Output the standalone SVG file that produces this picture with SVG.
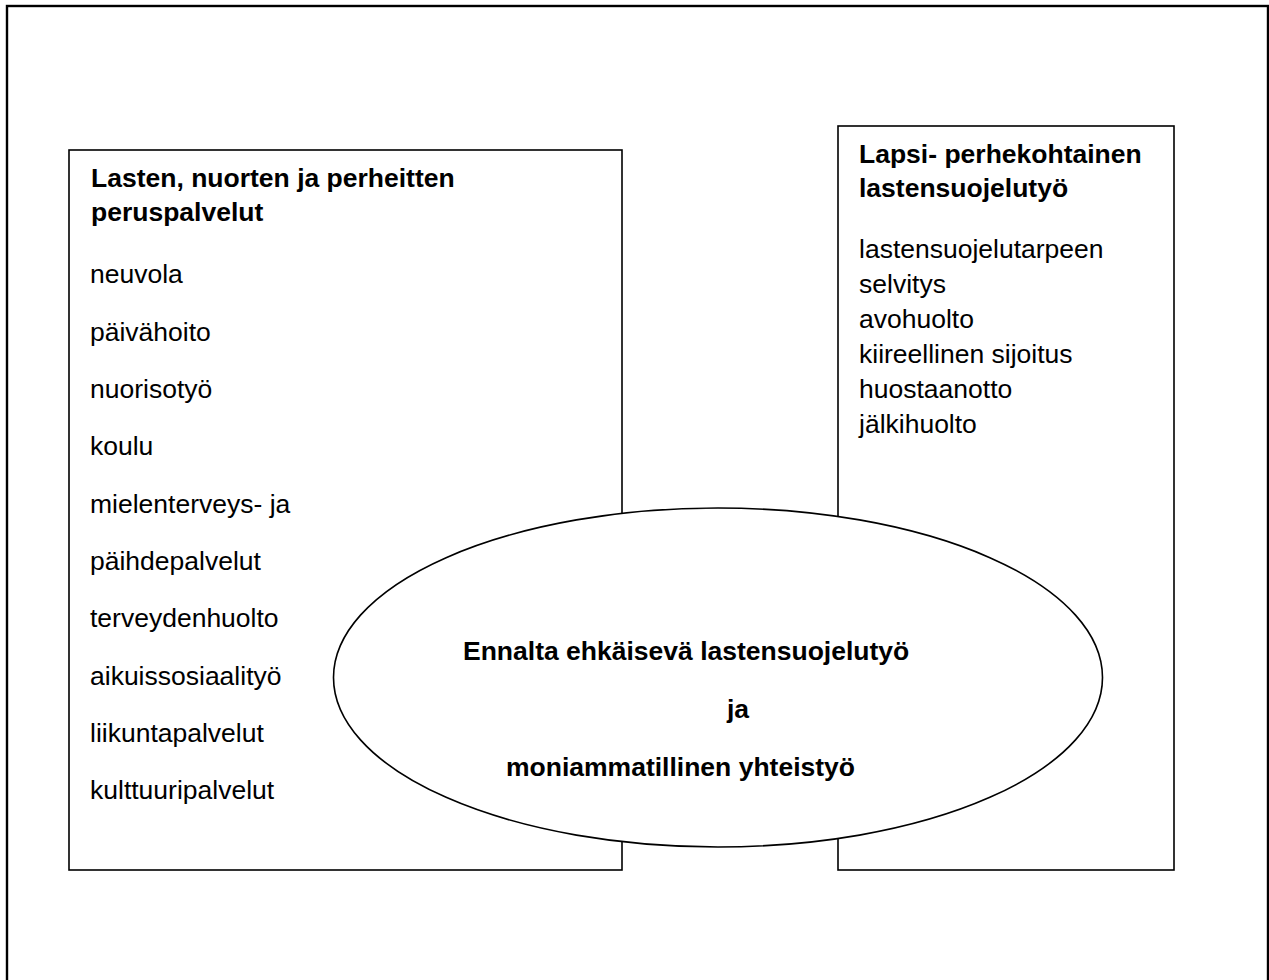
<svg xmlns="http://www.w3.org/2000/svg" width="1269" height="980" viewBox="0 0 1269 980">
<style>
.box{fill:#fff;stroke:#000;stroke-width:1.6}
.t{font-family:"Liberation Sans",Arial,sans-serif;font-size:26.5px;fill:#000}
.b{font-weight:bold}
</style>
<rect x="0" y="0" width="1269" height="980" fill="#fff"/>
<rect id="frame" x="7" y="6" width="1261" height="1000" fill="none" stroke="#000" stroke-width="2.4"/>
<g id="connectors"></g>
<g id="left-box">
<rect class="box" x="69" y="150" width="553" height="720"/>
<text class="t b" x="91" y="187">Lasten, nuorten ja perheitten</text>
<text class="t b" x="91" y="221">peruspalvelut</text>
<text class="t" x="90" y="283">neuvola</text>
<text class="t" x="90" y="340.5">päivähoito</text>
<text class="t" x="90" y="397.8">nuorisotyö</text>
<text class="t" x="90" y="455">koulu</text>
<text class="t" x="90" y="512.5">mielenterveys- ja</text>
<text class="t" x="90" y="569.8">päihdepalvelut</text>
<text class="t" x="90" y="627">terveydenhuolto</text>
<text class="t" x="90" y="684.5">aikuissosiaalityö</text>
<text class="t" x="90" y="741.8">liikuntapalvelut</text>
<text class="t" x="90" y="799">kulttuuripalvelut</text>
</g>
<g id="right-box">
<rect class="box" x="838" y="126" width="336" height="744"/>
<text class="t b" x="859" y="163">Lapsi- perhekohtainen</text>
<text class="t b" x="859" y="197">lastensuojelutyö</text>
<text class="t" x="859" y="258">lastensuojelutarpeen</text>
<text class="t" x="859" y="293">selvitys</text>
<text class="t" x="859" y="328">avohuolto</text>
<text class="t" x="859" y="363">kiireellinen sijoitus</text>
<text class="t" x="859" y="398">huostaanotto</text>
<text class="t" x="859" y="433">jälkihuolto</text>
</g>
<g id="center-ellipse">
<ellipse class="box" cx="718" cy="677.5" rx="384.5" ry="169.5"/>
<text class="t b" x="463" y="660">Ennalta ehkäisevä lastensuojelutyö</text>
<text class="t b" x="727" y="718">ja</text>
<text class="t b" x="506" y="776">moniammatillinen yhteistyö</text>
</g>
</svg>
